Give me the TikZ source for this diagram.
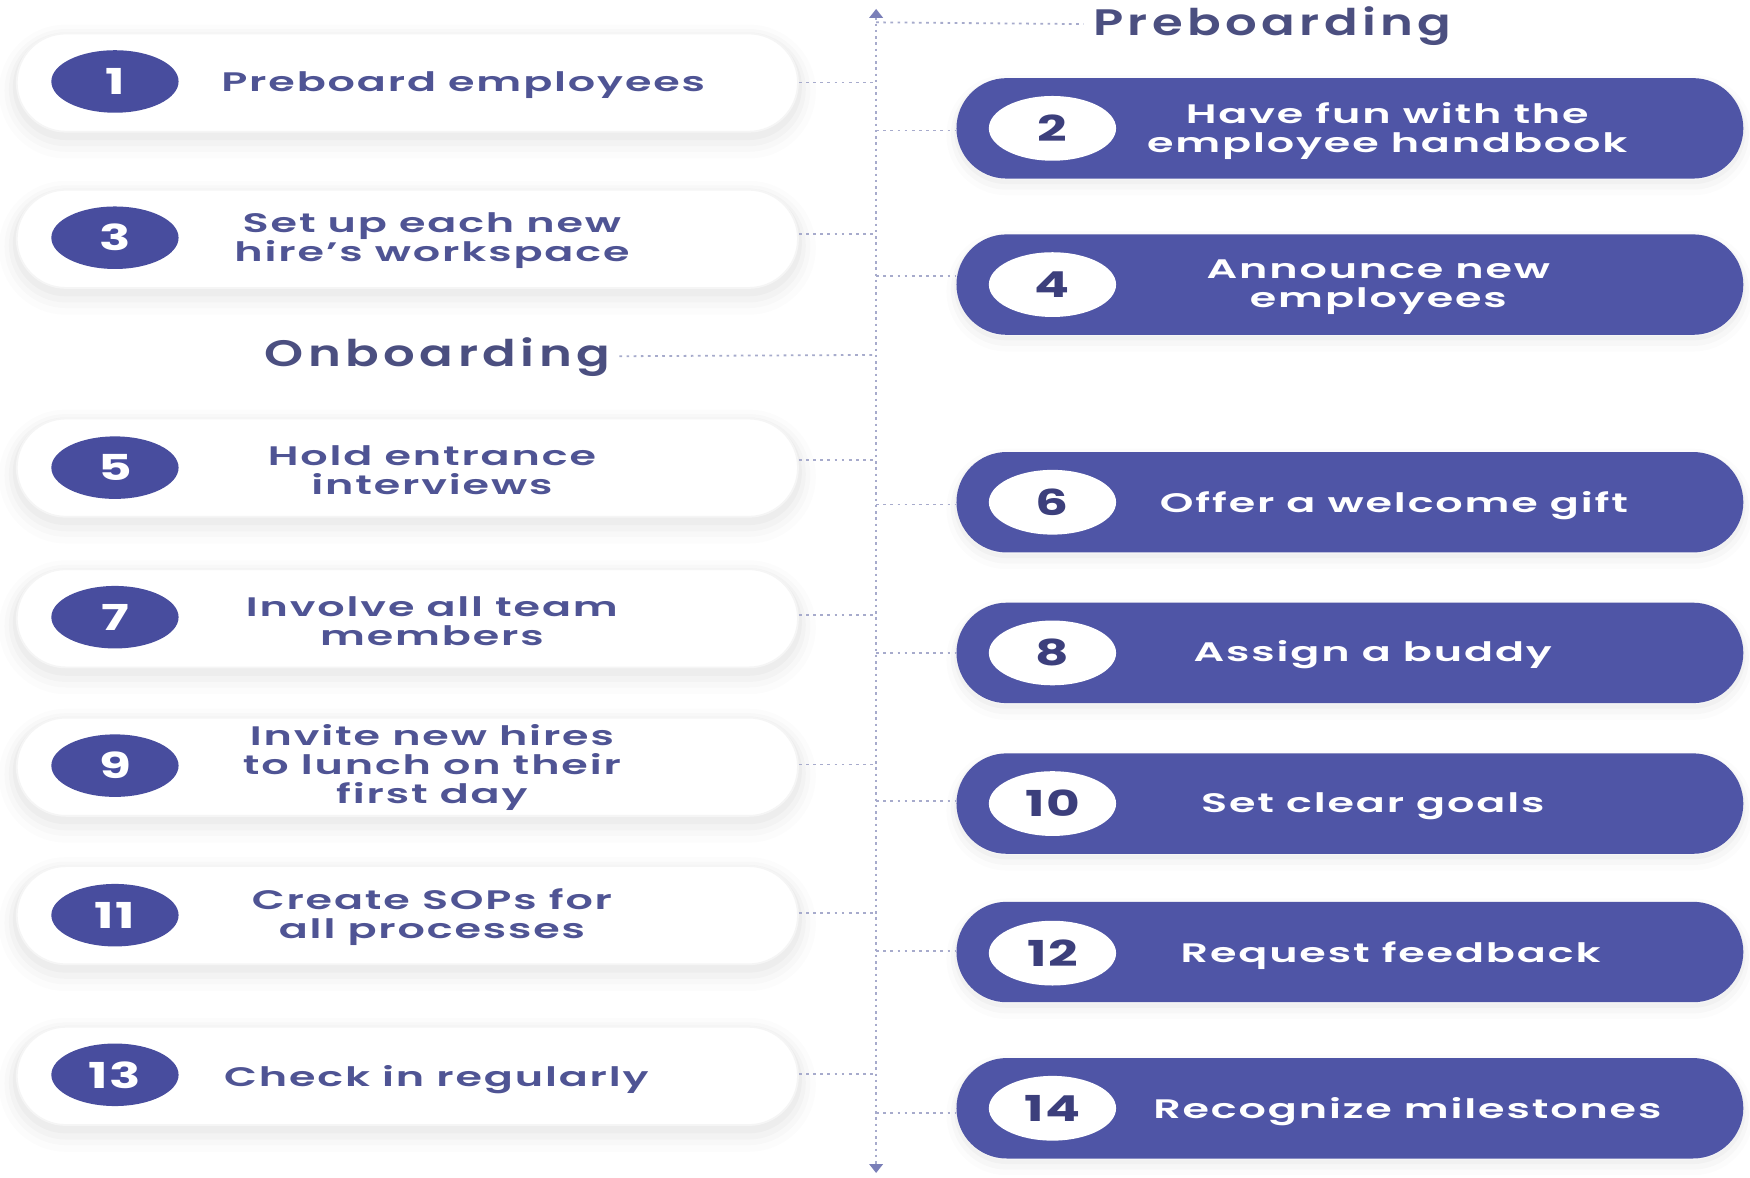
\documentclass[tikz,border=0pt]{standalone}
\usepackage{fontspec}
\IfFontExistsTF{Poppins SemiBold}{%
  \setmainfont{Poppins}[FakeStretch=1.6,LetterSpace=7,BoldFont={Poppins SemiBold}]%
  \newfontfamily\headfam{Poppins}[FakeStretch=1.35,LetterSpace=12,BoldFont={Poppins SemiBold}]%
}{%
  \setmainfont{Poppins}[FakeStretch=1.6,LetterSpace=7]%
  \newfontfamily\headfam{Poppins}[FakeStretch=1.35,LetterSpace=12]%
}
\newfontfamily\numfam{Poppins}[FakeStretch=1.45,LetterSpace=4]
\usetikzlibrary{arrows.meta,shapes.geometric}
\definecolor{pillblue}{HTML}{4F55A6}
\definecolor{circblue}{HTML}{484D9E}
\definecolor{txtblue}{HTML}{4F5494}
\definecolor{headcol}{HTML}{4B4F80}
\definecolor{numdark}{HTML}{3C3F7C}
\definecolor{axiscol}{HTML}{A7ABCC}
\definecolor{arrcol}{HTML}{7A7FB8}
\newcommand\bodyfnt{\fontsize{12}{13}\selectfont\bfseries}
\newcommand\numfnt{\numfam\fontsize{16}{16}\selectfont\bfseries}
\newcommand\headfnt{\headfam\fontsize{16.5}{18}\selectfont\bfseries}
\tikzset{
  softshadow/.style={
    preaction={draw=black,draw opacity=0.010,line width=16pt,transform canvas={yshift=-4pt}},
    preaction={draw=black,draw opacity=0.015,line width=11pt,transform canvas={yshift=-3.5pt}},
    preaction={draw=black,draw opacity=0.02,line width=7pt,transform canvas={yshift=-3pt}},
    preaction={draw=black,draw opacity=0.025,line width=3.5pt,transform canvas={yshift=-2pt}}},
  lightshadow/.style={
    preaction={draw=black,draw opacity=0.012,line width=9pt,transform canvas={yshift=-3pt}},
    preaction={draw=black,draw opacity=0.02,line width=5pt,transform canvas={yshift=-2.5pt}},
    preaction={draw=black,draw opacity=0.025,line width=2pt,transform canvas={yshift=-1.5pt}}},
  lpill/.style={softshadow,rectangle,rounded corners=22pt,fill=white,draw=black!4,line width=0.8pt,
    minimum width=350pt,minimum height=44pt,inner sep=0pt},
  rpill/.style={lightshadow,rectangle,rounded corners=22.5pt,fill=pillblue,
    minimum width=352.5pt,minimum height=45pt,inner sep=0pt},
  lcirc/.style={ellipse,fill=circblue,minimum width=57pt,minimum height=28pt,inner sep=0pt,
    text=white,font=\numfnt},
  rcirc/.style={ellipse,fill=white,minimum width=57pt,minimum height=29pt,inner sep=0pt,
    text=numdark,font=\numfnt},
  ltext/.style={text=txtblue,font=\bodyfnt,align=center,inner sep=1pt,yshift=-1.5pt},
  rtext/.style={text=white,font=\bodyfnt,align=center,inner sep=1pt,yshift=-1.5pt},
  heading/.style={text=headcol,font=\headfnt,inner sep=4pt,yshift=-1.5pt},
  conn/.style={draw=axiscol,line width=0.8pt,dash pattern=on 1.2pt off 2pt},
  axisline/.style={draw=axiscol,line width=1pt,dash pattern=on 1.2pt off 1.6pt,
    {Triangle[width=6pt,length=4pt,color=arrcol]}-{Triangle[width=6pt,length=4pt,color=arrcol]}}
}
\begin{document}
\begin{tikzpicture}[x=0.5pt,y=-0.5pt]
\useasboundingbox (0,0) rectangle (1568,1055);
\fill[white] (0,0) rectangle (1568,1055);

% axis
\coordinate (axtop) at (785,8);
\coordinate (axbot) at (785,1051);
\draw[axisline] (axtop) -- (axbot);

% headings
\node[heading] (pre) at (1140,20) {Preboarding};
\node[heading] (onb) at (392,317) {Onboarding};
\coordinate (hp) at (785,20);
\coordinate (ho) at (785,318);
\draw[conn] (hp) -- (pre);
\draw[conn] (onb) -- (ho);

% left pills
\node[lpill] (p1) at (365,74) {};
\node[lpill] (p3) at (365,214) {};
\node[lpill] (p5) at (365,419) {};
\node[lpill] (p7) at (365,554) {};
\node[lpill] (p9) at (365,687) {};
\node[lpill] (p11) at (365,820) {};
\node[lpill] (p13) at (365,964) {};

\node[lcirc] (c1) at (103,73) {1};
\node[lcirc] (c3) at (103,213) {3};
\node[lcirc] (c5) at (103,419) {5};
\node[lcirc] (c7) at (103,553) {7};
\node[lcirc] (c9) at (103,686) {9};
\node[lcirc] (c11) at (103,820) {11};
\node[lcirc] (c13) at (103,963) {13};

\node[ltext] (t1) at (415,73) {Preboard employees};
\node[ltext] (t3) at (387,213) {Set up each new\\hire's workspace};
\node[ltext] (t5) at (387,418) {Hold entrance\\interviews};
\node[ltext] (t7) at (387,554) {Involve all team\\members};
\node[ltext] (t9) at (387,685) {Invite new hires\\to lunch on their\\first day};
\node[ltext] (t11) at (387,819) {Create SOPs for\\all processes};
\node[ltext] (t13) at (391,964) {Check in regularly};

% right pills
\node[rpill] (q2) at (1209.5,115) {};
\node[rpill] (q4) at (1209.5,255) {};
\node[rpill] (q6) at (1209.5,450) {};
\node[rpill] (q8) at (1209.5,585) {};
\node[rpill] (q10) at (1209.5,720) {};
\node[rpill] (q12) at (1209.5,853) {};
\node[rpill] (q14) at (1209.5,993) {};

\node[rcirc] (d2) at (943,115) {2};
\node[rcirc] (d4) at (943,255) {4};
\node[rcirc] (d6) at (943,450) {6};
\node[rcirc] (d8) at (943,585) {8};
\node[rcirc] (d10) at (943,720) {10};
\node[rcirc] (d12) at (943,854) {12};
\node[rcirc] (d14) at (943,993) {14};

\node[rtext] (u2) at (1243,114) {Have fun with the\\employee handbook};
\node[rtext] (u4) at (1235,254) {Announce new\\employees};
\node[rtext] (u6) at (1249,450) {Offer a welcome gift};
\node[rtext] (u8) at (1230,584) {Assign a buddy};
\node[rtext] (u10) at (1230,719) {Set clear goals};
\node[rtext] (u12) at (1246,853) {Request feedback};
\node[rtext] (u14) at (1261,993) {Recognize milestones};

% connectors, left side
\coordinate (a1) at (785,74);
\coordinate (a3) at (785,210);
\coordinate (a5) at (785,412);
\coordinate (a7) at (785,551);
\coordinate (a9) at (785,685);
\coordinate (a11) at (785,818);
\coordinate (a13) at (785,962);
\draw[conn] (p1.east |- a1) -- (a1);
\draw[conn] (p3.east |- a3) -- (a3);
\draw[conn] (p5.east |- a5) -- (a5);
\draw[conn] (p7.east |- a7) -- (a7);
\draw[conn] (p9.east |- a9) -- (a9);
\draw[conn] (p11.east |- a11) -- (a11);
\draw[conn] (p13.east |- a13) -- (a13);

% connectors, right side
\coordinate (b2) at (785,117);
\coordinate (b4) at (785,247);
\coordinate (b6) at (785,452);
\coordinate (b8) at (785,585);
\coordinate (b10) at (785,718);
\coordinate (b12) at (785,852);
\coordinate (b14) at (785,997);
\draw[conn] (b2) -- (q2.west |- b2);
\draw[conn] (b4) -- (q4.west |- b4);
\draw[conn] (b6) -- (q6.west |- b6);
\draw[conn] (b8) -- (q8.west |- b8);
\draw[conn] (b10) -- (q10.west |- b10);
\draw[conn] (b12) -- (q12.west |- b12);
\draw[conn] (b14) -- (q14.west |- b14);
\end{tikzpicture}
\end{document}
